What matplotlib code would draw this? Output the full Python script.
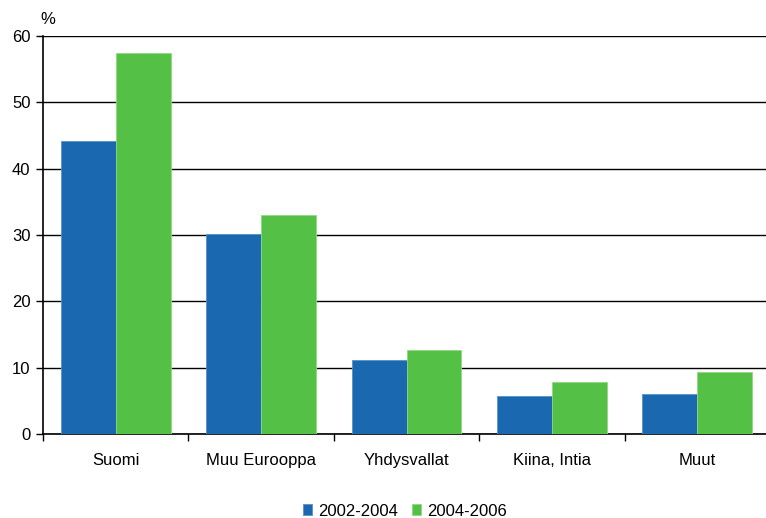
import matplotlib
matplotlib.use("Agg")
import matplotlib.pyplot as plt
import numpy as np

plt.rcParams['font.family'] = ['Liberation Sans', 'DejaVu Sans']

categories = ["Suomi", "Muu Eurooppa", "Yhdysvallat", "Kiina, Intia", "Muut"]
series_labels = ["2002-2004", "2004-2006"]
values_2002_2004 = [44.1, 30.1, 11.2, 5.8, 6.1]
values_2004_2006 = [57.4, 33.0, 12.6, 7.8, 9.3]
y_ticks = [0, 10, 20, 30, 40, 50, 60]

blue = "#1a68b0"
green = "#55c046"

W, H = 766, 518
fig = plt.figure(figsize=(W / 100, H / 100), dpi=100)
ax = fig.add_axes([43 / W, 1 - 434 / H, 727 / W, 398 / H])

x = np.arange(len(categories))
bw = 0.378
ax.bar(x - bw / 2, values_2002_2004, bw, color=blue, edgecolor="#5a90c8",
       linewidth=0.6, label=series_labels[0], zorder=3)
ax.bar(x + bw / 2, values_2004_2006, bw, color=green, edgecolor="#8fd883",
       linewidth=0.6, label=series_labels[1], zorder=3)

ax.set_xlim(-0.5, len(categories) - 0.5)
ax.set_ylim(0, 60)
ax.set_yticks(y_ticks)
ax.yaxis.grid(True, color="black", linewidth=1.0, zorder=0)
ax.set_axisbelow(True)

# category boundaries as ticks, labels centred under each group
ax.set_xticks(np.arange(len(categories) + 1) - 0.5)
ax.set_xticklabels([])
ax.set_xticks(x, minor=True)
ax.set_xticklabels(categories, minor=True, fontsize=12)
ax.tick_params(axis="x", which="minor", length=0, pad=14)
ax.tick_params(axis="x", which="major", length=5, width=1, direction="out")
ax.tick_params(axis="y", length=5, width=1, direction="out", labelsize=12, pad=4)

for s in ["top", "right"]:
    ax.spines[s].set_visible(False)
for s in ["left", "bottom"]:
    ax.spines[s].set_linewidth(1.2)
    ax.spines[s].set_color("black")

fig.text(48 / W, 1 - 20 / H, "%", fontsize=12, ha="center", va="center")

ax.legend(loc="center", bbox_to_anchor=(405 / W, 1 - 511 / H),
          bbox_transform=fig.transFigure, ncol=2, frameon=False,
          fontsize=12, handlelength=0.55, handleheight=0.65,
          handletextpad=0.4, columnspacing=0.8)

fig.savefig("out.png", dpi=100)
